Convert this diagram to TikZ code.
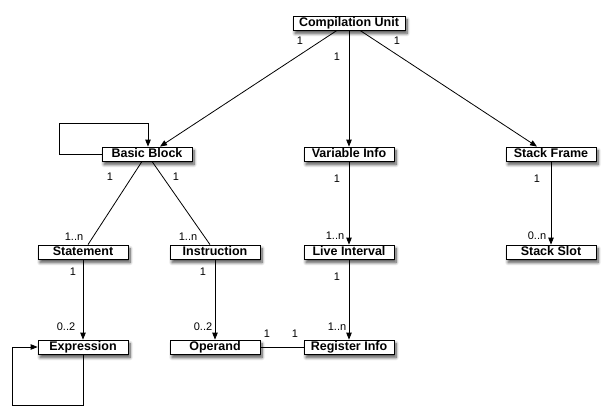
\documentclass[tikz,border=0pt]{standalone}
\usepackage{fontspec}
\setmainfont{Liberation Sans}
\usetikzlibrary{arrows.meta,shadows.blur}
\tikzset{
  cls/.style  = {rectangle, draw=black, fill=white, line width=0.8pt,
                 font=\fontsize{12.5}{14}\selectfont\bfseries,
                 minimum width=90pt, minimum height=14pt, inner sep=0pt,
                 text height=9pt, text depth=2.5pt,
                 blur shadow={shadow xshift=2pt, shadow yshift=-3.5pt,
                              shadow blur radius=3pt,
                              shadow blur steps=8, shadow opacity=70}},
  mult/.style = {font=\fontsize{11}{12}\selectfont, inner sep=0pt},
  assoc/.style= {line width=0.8pt},
  nav/.style  = {line width=0.8pt, -{Triangle[length=7pt,width=5.5pt]}},
}
\begin{document}
\begin{tikzpicture}[x=1pt, y=-1pt]
\useasboundingbox (0,0) rectangle (616,416);

%── classes ──────────────────────────────────────────────
\node[cls, minimum width=112pt] (cu) at (349, 23) {Compilation Unit};
\node[cls] (bb)  at (147,154) {Basic Block};
\node[cls] (vi)  at (349,154) {Variable Info};
\node[cls] (sf)  at (551,154) {Stack Frame};
\node[cls] (st)  at ( 83,252) {Statement};
\node[cls] (ins) at (215,252) {Instruction};
\node[cls] (li)  at (349,252) {Live Interval};
\node[cls] (ss)  at (551,252) {Stack Slot};
\node[cls] (ex)  at ( 83,347) {Expression};
\node[cls] (op)  at (215,347) {Operand};
\node[cls] (ri)  at (349,347) {Register Info};

%── loop corners ─────────────────────────────────────────
\coordinate (bbloop) at (59,123);
\coordinate (exloop) at (12,405);

%── associations ─────────────────────────────────────────
\draw[nav] ([xshift=-12pt]cu.south) -- ([xshift=13pt]bb.north);
\draw[nav] (cu.south) -- (vi.north);
\draw[nav] ([xshift=11pt]cu.south) -- ([xshift=-14pt]sf.north);
\draw[nav] (bb.west) -| (bbloop) -| ([xshift=1pt]bb.north);
\draw[assoc] ([xshift=-5pt]bb.south) -- ([xshift=5pt]st.north);
\draw[assoc] ([xshift=5pt]bb.south) -- ([xshift=-5pt]ins.north);
\draw[nav] (vi.south) -- (li.north);
\draw[nav] (sf.south) -- (ss.north);
\draw[nav] (st.south) -- (ex.north);
\draw[nav] (ins.south) -- (op.north);
\draw[nav] (li.south) -- (ri.north);
\draw[nav] (ex.south) |- (exloop) |- (ex.west);
\draw[assoc] (op.east) -- (ri.west);

%── multiplicities ───────────────────────────────────────
\node[mult] (m1)  at (300, 41) {1};
\node[mult] (m2)  at (337, 57) {1};
\node[mult] (m3)  at (397, 41) {1};
\node[mult] (m4)  at (110,177) {1};
\node[mult] (m5)  at (176,177) {1};
\node[mult] (m6)  at (337,179) {1};
\node[mult] (m7)  at (537,179) {1};
\node[mult] (m8)  at ( 74,237) {1..n};
\node[mult] (m9)  at (188,237) {1..n};
\node[mult] (m10) at (335,236) {1..n};
\node[mult] (m11) at (537,236) {0..n};
\node[mult] (m12) at ( 73,272) {1};
\node[mult] (m13) at (203,272) {1};
\node[mult] (m14) at (337,277) {1};
\node[mult] (m15) at ( 66,327) {0..2};
\node[mult] (m16) at (203,327) {0..2};
\node[mult] (m17) at (337,327) {1..n};
\node[mult] (m18) at (267,334) {1};
\node[mult] (m19) at (295,334) {1};

\end{tikzpicture}
\end{document}
